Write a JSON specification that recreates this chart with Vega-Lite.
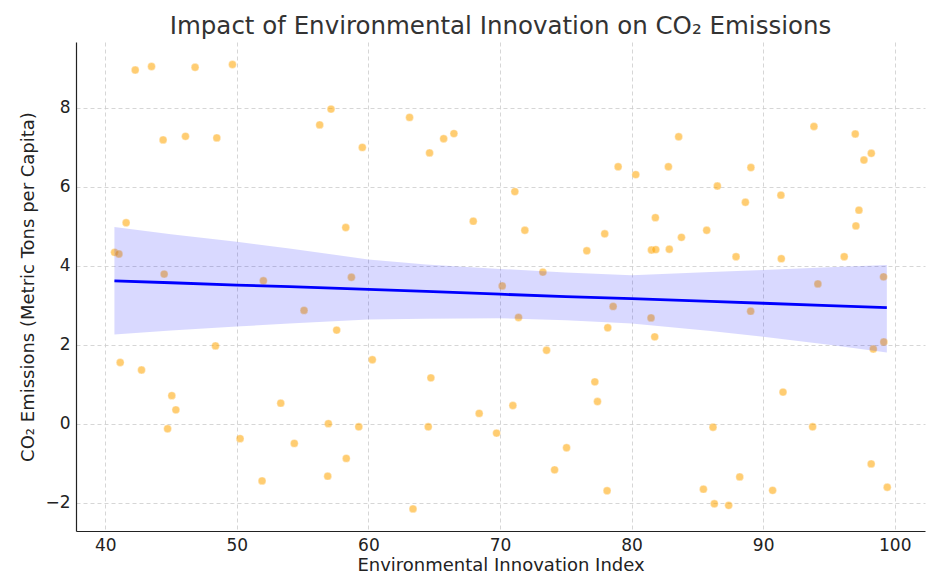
{
  "$schema": "https://vega.github.io/schema/vega-lite/v6.json",
  "autosize": {"type": "none"},
  "width": 849,
  "height": 489,
  "padding": {"left": 76, "top": 42, "right": 2, "bottom": 56},
  "background": "white",
  "config": {
    "font": "DejaVu Sans",
    "view": {"stroke": null},
    "axis": {
      "grid": true,
      "gridColor": "#cccccc",
      "gridDash": [4, 3],
      "gridWidth": 0.8,
      "domainColor": "#222222",
      "domainWidth": 1.2,
      "tickColor": "#222222",
      "tickSize": 0,
      "labelFontSize": 17,
      "labelColor": "#222222",
      "titleFontSize": 18,
      "titleFontWeight": "normal",
      "titleColor": "#222222",
      "labelPadding": 6
    }
  },
  "title": {
    "text": "Impact of Environmental Innovation on CO₂ Emissions",
    "fontSize": 24.5,
    "fontWeight": "normal",
    "color": "#333333",
    "anchor": "middle",
    "offset": 3
  },
  "datasets": {
    "pts": [
      {"x": 42.28, "y": 8.96}, {"x": 43.52, "y": 9.05}, {"x": 46.83, "y": 9.03}, {"x": 49.67, "y": 9.10},
      {"x": 44.40, "y": 7.19}, {"x": 46.10, "y": 7.28}, {"x": 48.48, "y": 7.24}, {"x": 41.59, "y": 5.09},
      {"x": 40.71, "y": 4.34}, {"x": 41.04, "y": 4.30}, {"x": 44.48, "y": 3.79}, {"x": 52.02, "y": 3.62},
      {"x": 57.16, "y": 7.97}, {"x": 56.30, "y": 7.57}, {"x": 59.54, "y": 7.00}, {"x": 63.13, "y": 7.76},
      {"x": 64.65, "y": 6.86}, {"x": 65.72, "y": 7.22}, {"x": 66.50, "y": 7.35}, {"x": 58.28, "y": 4.97},
      {"x": 67.97, "y": 5.13}, {"x": 58.71, "y": 3.71},
      {"x": 83.58, "y": 7.27}, {"x": 78.98, "y": 6.51}, {"x": 80.32, "y": 6.31}, {"x": 82.80, "y": 6.51},
      {"x": 71.13, "y": 5.88}, {"x": 71.89, "y": 4.90}, {"x": 77.96, "y": 4.81}, {"x": 76.60, "y": 4.38},
      {"x": 81.81, "y": 5.22}, {"x": 81.51, "y": 4.40}, {"x": 81.84, "y": 4.41}, {"x": 82.87, "y": 4.42},
      {"x": 83.79, "y": 4.72}, {"x": 85.71, "y": 4.90}, {"x": 73.26, "y": 3.84},
      {"x": 93.86, "y": 7.53}, {"x": 97.00, "y": 7.34}, {"x": 98.22, "y": 6.85}, {"x": 97.66, "y": 6.68},
      {"x": 89.07, "y": 6.49}, {"x": 86.52, "y": 6.02}, {"x": 88.65, "y": 5.61}, {"x": 91.35, "y": 5.79},
      {"x": 97.28, "y": 5.41}, {"x": 97.05, "y": 5.01}, {"x": 87.94, "y": 4.23}, {"x": 91.38, "y": 4.18},
      {"x": 96.16, "y": 4.23}, {"x": 99.15, "y": 3.72},
      {"x": 48.38, "y": 1.97}, {"x": 41.14, "y": 1.55}, {"x": 42.76, "y": 1.36}, {"x": 45.06, "y": 0.71},
      {"x": 45.37, "y": 0.35}, {"x": 44.74, "y": -0.13}, {"x": 53.34, "y": 0.52}, {"x": 50.25, "y": -0.38},
      {"x": 51.92, "y": -1.45},
      {"x": 55.11, "y": 2.87}, {"x": 57.59, "y": 2.37}, {"x": 60.30, "y": 1.62}, {"x": 64.75, "y": 1.16},
      {"x": 56.96, "y": 0.00}, {"x": 59.27, "y": -0.08}, {"x": 64.55, "y": -0.08}, {"x": 68.42, "y": 0.26},
      {"x": 69.74, "y": -0.24}, {"x": 54.37, "y": -0.50}, {"x": 58.32, "y": -0.88}, {"x": 56.91, "y": -1.33},
      {"x": 63.39, "y": -2.16}, {"x": 70.17, "y": 3.49},
      {"x": 71.41, "y": 2.69}, {"x": 78.60, "y": 2.97}, {"x": 78.19, "y": 2.43}, {"x": 81.48, "y": 2.68},
      {"x": 81.76, "y": 2.20}, {"x": 73.54, "y": 1.86}, {"x": 77.21, "y": 1.06}, {"x": 77.41, "y": 0.56},
      {"x": 70.98, "y": 0.46}, {"x": 75.06, "y": -0.61}, {"x": 74.15, "y": -1.17}, {"x": 78.14, "y": -1.70},
      {"x": 85.46, "y": -1.66},
      {"x": 94.16, "y": 3.54}, {"x": 89.05, "y": 2.85}, {"x": 99.17, "y": 2.07}, {"x": 98.37, "y": 1.89},
      {"x": 91.51, "y": 0.80}, {"x": 86.19, "y": -0.09}, {"x": 93.76, "y": -0.08}, {"x": 98.21, "y": -1.02},
      {"x": 99.43, "y": -1.61}, {"x": 88.22, "y": -1.35}, {"x": 90.72, "y": -1.69}, {"x": 86.29, "y": -2.03},
      {"x": 87.38, "y": -2.07}
    ],
    "fit": [
      {"x": 40.7, "lo": 2.26, "hi": 4.98, "fit": 3.62},
      {"x": 45.0, "lo": 2.36, "hi": 4.80, "fit": 3.57},
      {"x": 50.0, "lo": 2.46, "hi": 4.61, "fit": 3.51},
      {"x": 54.0, "lo": 2.54, "hi": 4.44, "fit": 3.47},
      {"x": 60.0, "lo": 2.64, "hi": 4.16, "fit": 3.40},
      {"x": 64.4, "lo": 2.66, "hi": 4.03, "fit": 3.35},
      {"x": 70.0, "lo": 2.67, "hi": 3.92, "fit": 3.28},
      {"x": 75.0, "lo": 2.62, "hi": 3.83, "fit": 3.22},
      {"x": 80.0, "lo": 2.54, "hi": 3.76, "fit": 3.17},
      {"x": 86.0, "lo": 2.35, "hi": 3.84, "fit": 3.10},
      {"x": 90.0, "lo": 2.20, "hi": 3.89, "fit": 3.05},
      {"x": 95.0, "lo": 2.00, "hi": 3.96, "fit": 2.99},
      {"x": 99.4, "lo": 1.80, "hi": 4.02, "fit": 2.94}
    ]
  },
  "layer": [
    {
      "data": {"name": "pts"},
      "mark": {"type": "circle", "color": "#FFA500", "opacity": 0.55, "size": 62, "stroke": "white", "strokeWidth": 0.6, "strokeOpacity": 0.6},
      "encoding": {
        "x": {
          "field": "x", "type": "quantitative",
          "scale": {"domain": [37.78, 102.3], "nice": false, "zero": false},
          "axis": {"title": "Environmental Innovation Index", "values": [40, 50, 60, 70, 80, 90, 100], "titlePadding": 3}
        },
        "y": {
          "field": "y", "type": "quantitative",
          "scale": {"domain": [-2.72, 9.67], "nice": false, "zero": false},
          "axis": {"title": "CO₂ Emissions (Metric Tons per Capita)", "values": [-2, 0, 2, 4, 6, 8], "titlePadding": 7}
        }
      }
    },
    {
      "data": {"name": "fit"},
      "mark": {"type": "area", "color": "#0000FF", "opacity": 0.15},
      "encoding": {
        "x": {"field": "x", "type": "quantitative"},
        "y": {"field": "lo", "type": "quantitative"},
        "y2": {"field": "hi"}
      }
    },
    {
      "data": {"name": "fit"},
      "mark": {"type": "line", "color": "#0000FF", "strokeWidth": 2.8},
      "encoding": {
        "x": {"field": "x", "type": "quantitative"},
        "y": {"field": "fit", "type": "quantitative"}
      }
    }
  ]
}
